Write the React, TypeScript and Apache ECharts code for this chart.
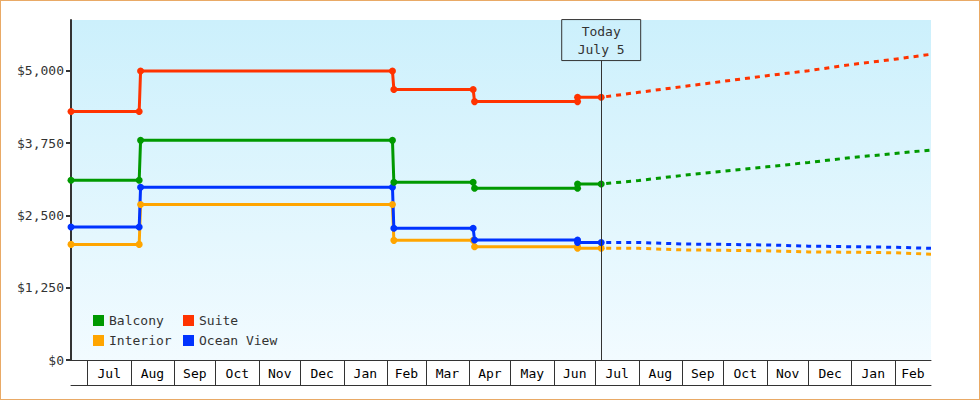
import React, { useEffect, useRef } from 'react';
import * as echarts from 'echarts';

const d = (y: number, m: number, day: number) => new Date(y, m - 1, day).getTime();

const AXIS_START = d(2022, 6, 19);
const AXIS_END = d(2024, 2, 27);
const TODAY = d(2023, 7, 5);

const MONTH_NAMES = ['Jan', 'Feb', 'Mar', 'Apr', 'May', 'Jun', 'Jul', 'Aug', 'Sep', 'Oct', 'Nov', 'Dec'];

// month boundaries drawn as separators on the x axis
const monthStarts = [
  d(2022, 7, 1), d(2022, 8, 1), d(2022, 9, 1), d(2022, 10, 1), d(2022, 11, 1), d(2022, 12, 1),
  d(2023, 1, 1), d(2023, 2, 1), d(2023, 3, 1), d(2023, 4, 1), d(2023, 5, 1), d(2023, 6, 1),
  d(2023, 7, 1), d(2023, 8, 1), d(2023, 9, 1), d(2023, 10, 1), d(2023, 11, 1), d(2023, 12, 1),
  d(2024, 1, 1), d(2024, 2, 1),
];

const yTicks = [0, 1250, 2500, 3750, 5000];

// price history (two points per step)
const historyDates = [
  d(2022, 6, 19), d(2022, 8, 7), d(2022, 8, 8), d(2023, 2, 5), d(2023, 2, 6),
  d(2023, 4, 4), d(2023, 4, 5), d(2023, 6, 18), d(2023, 6, 18), TODAY,
];
const balconyHistory = [3110, 3110, 3800, 3800, 3075, 3075, 2970, 2970, 3045, 3045];
const suiteHistory = [4300, 4300, 5000, 5000, 4680, 4680, 4470, 4470, 4545, 4545];
const interiorHistory = [2000, 2000, 2690, 2690, 2070, 2070, 1960, 1960, 1935, 1935];
const oceanViewHistory = [2300, 2300, 2990, 2990, 2280, 2280, 2075, 2075, 2033, 2033];

// forecast
const forecastDates = [
  TODAY, d(2023, 8, 1), d(2023, 9, 1), d(2023, 10, 1), d(2023, 11, 1),
  d(2023, 12, 1), d(2024, 1, 1), d(2024, 2, 1), AXIS_END,
];
const balconyForecast = [3045, 3105, 3192, 3265, 3342, 3417, 3503, 3572, 3633];
const suiteForecast = [4545, 4631, 4728, 4822, 4918, 5005, 5112, 5204, 5289];
const interiorForecast = [1935, 1932, 1905, 1898, 1888, 1870, 1865, 1855, 1830];
const oceanViewForecast = [2033, 2033, 2007, 2000, 1990, 1970, 1960, 1950, 1932];

const COLORS = {
  Balcony: '#009900',
  Suite: '#ff3300',
  Interior: '#ffa500',
  'Ocean View': '#0033ff',
};

const FONT = 'DejaVu Sans Mono';
const INK = '#333333';

const zip = (xs: number[], ys: number[]) => xs.map((x, i) => [x, ys[i]]);

const App: React.FC = () => {
  const chartRef = useRef<HTMLDivElement>(null);

  useEffect(() => {
    const myChart = echarts.init(chartRef.current!, null, { renderer: 'svg' });

    // label each month in the middle of its band
    const bounds = [...monthStarts, AXIS_END];
    const monthMids = monthStarts.map((s, i) => (s + Math.min(bounds[i + 1], AXIS_END)) / 2);

    const history = (name: keyof typeof COLORS, values: number[], extra: any = {}) => ({
      name,
      type: 'line',
      data: zip(historyDates, values),
      symbol: 'circle',
      symbolSize: 7,
      itemStyle: { color: COLORS[name] },
      lineStyle: { color: COLORS[name], width: 3 },
      ...extra,
    });
    const forecast = (name: keyof typeof COLORS, values: number[]) => ({
      name,
      type: 'line',
      data: zip(forecastDates, values),
      showSymbol: false,
      itemStyle: { color: COLORS[name] },
      lineStyle: { color: COLORS[name], width: 3, type: [5, 5], dashOffset: -5 },
    });

    const option = {
      animation: false,
      textStyle: { fontFamily: FONT },
      grid: {
        left: 70,
        right: 48,
        top: 19,
        bottom: 39,
        show: true,
        borderWidth: 0,
        backgroundColor: new echarts.graphic.LinearGradient(0, 0, 0, 1, [
          { offset: 0, color: '#ccf0fc' },
          { offset: 1, color: '#f2fbff' },
        ]),
        outerBoundsMode: 'none',
      },
      legend: [
        {
          data: ['Balcony', 'Interior'],
          orient: 'vertical',
          left: 92,
          top: 313,
          padding: 0,
          itemGap: 7,
          itemWidth: 11,
          itemHeight: 11,
          icon: 'rect',
          selectedMode: false,
          textStyle: { fontFamily: FONT, fontSize: 13, color: INK },
        },
        {
          data: ['Suite', 'Ocean View'],
          orient: 'vertical',
          left: 182,
          top: 313,
          padding: 0,
          itemGap: 7,
          itemWidth: 11,
          itemHeight: 11,
          icon: 'rect',
          selectedMode: false,
          textStyle: { fontFamily: FONT, fontSize: 13, color: INK },
        },
      ],
      xAxis: [
        {
          type: 'value',
          min: AXIS_START,
          max: AXIS_END,
          axisLine: { show: true, lineStyle: { color: INK, width: 1 } },
          axisTick: {
            show: true,
            customValues: monthStarts,
            length: 25,
            lineStyle: { color: INK, width: 1 },
          },
          axisLabel: {
            customValues: monthMids,
            margin: 7,
            fontFamily: FONT,
            fontSize: 13,
            color: '#000',
            formatter: (v: number) => MONTH_NAMES[new Date(v).getMonth()],
          },
          splitLine: { show: false },
        },
        {
          // bottom rule under the month boxes
          type: 'value',
          min: AXIS_START,
          max: AXIS_END,
          position: 'bottom',
          offset: 25,
          axisLine: { show: true, lineStyle: { color: INK, width: 1 } },
          axisTick: { show: false },
          axisLabel: { show: false },
          splitLine: { show: false },
        },
      ],
      yAxis: {
        type: 'value',
        min: 0,
        max: 5882,
        axisLine: { show: true, lineStyle: { color: INK, width: 2 } },
        axisTick: { show: true, customValues: yTicks, length: 5, lineStyle: { color: INK, width: 2 } },
        axisLabel: {
          customValues: yTicks,
          margin: 7,
          fontFamily: FONT,
          fontSize: 13,
          color: INK,
          formatter: (v: number) => '$' + v.toLocaleString('en-US'),
        },
        splitLine: { show: false },
      },
      series: [
        forecast('Interior', interiorForecast),
        forecast('Ocean View', oceanViewForecast),
        forecast('Balcony', balconyForecast),
        forecast('Suite', suiteForecast),
        history('Interior', interiorHistory),
        history('Ocean View', oceanViewHistory),
        history('Balcony', balconyHistory),
        history('Suite', suiteHistory, {
          markLine: {
            silent: true,
            symbol: ['none', 'none'],
            animation: false,
            lineStyle: { color: INK, width: 1, type: 'solid' },
            label: {
              show: true,
              position: 'end',
              distance: 0,
              formatter: 'Today\nJuly 5',
              fontFamily: FONT,
              fontSize: 13,
              lineHeight: 18,
              color: INK,
              align: 'center',
              borderColor: INK,
              borderWidth: 1,
              padding: [3, 16, 2, 16],
            },
            data: [[{ coord: [TODAY, 0] }, { coord: [TODAY, 5180] }]],
          },
        }),
      ],
    };

    myChart.setOption(option as any);

    return () => {
      myChart.dispose();
    };
  }, []);

  return (
    <div
      style={{
        position: 'absolute',
        left: 0,
        top: 0,
        width: 980,
        height: 400,
        boxSizing: 'border-box',
        border: '1px solid #e9aa66',
        background: '#fff',
      }}
    >
      <div ref={chartRef} style={{ width: 978, height: 398 }} />
    </div>
  );
};

export default App;
